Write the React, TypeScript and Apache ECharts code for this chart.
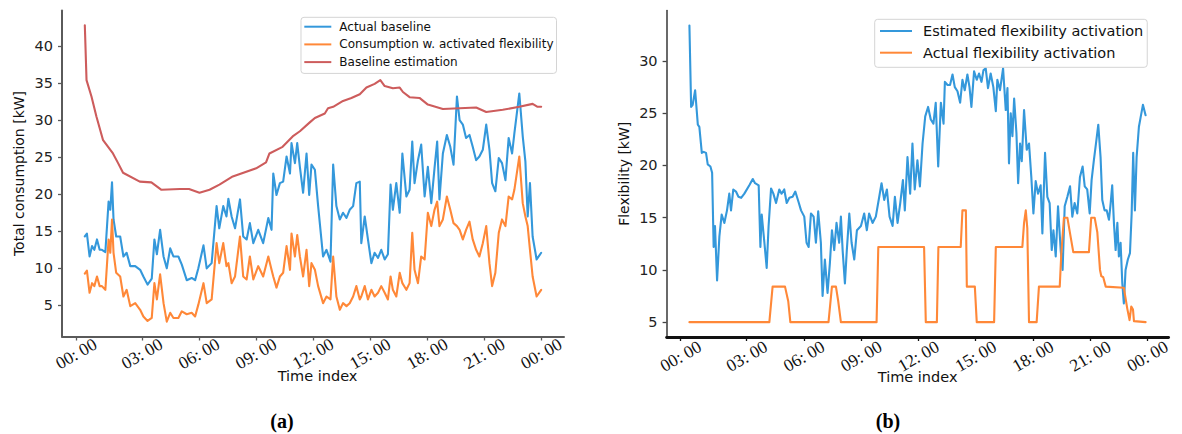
import React, { useEffect, useRef } from "react";
import * as echarts from "echarts";

// Tick positions (hours) and their labels on both time axes
const hourTicks = [-0.46, 3, 6, 9, 12, 15, 18, 21, 24];
const hourTickLabels = ["00: 00", "03: 00", "06: 00", "09: 00", "12: 00", "15: 00", "18: 00", "21: 00", "00: 00"];

const consumptionTicks = [5, 10, 15, 20, 25, 30, 35, 40];
const flexibilityTicks = [5, 10, 15, 20, 25, 30];

// (a) Total consumption [kW]
const consumptionTimes = [
  0, 0.11, 0.25, 0.38, 0.5, 0.64, 0.78, 0.9, 1.08, 1.25,
  1.34, 1.43, 1.51, 1.65, 1.86, 2.03, 2.2, 2.39, 2.65, 2.91,
  3.08, 3.3, 3.52, 3.66, 3.79, 3.96, 4.14, 4.31, 4.49, 4.66,
  4.92, 5.1, 5.36, 5.62, 5.8, 5.97, 6.24, 6.41, 6.67, 6.93,
  7.07, 7.28, 7.45, 7.55, 7.72, 7.9, 8.16, 8.33, 8.51, 8.68,
  8.86, 9.12, 9.38, 9.65, 9.82, 9.91, 10.08, 10.26, 10.43, 10.61,
  10.79, 10.87, 11.05, 11.17, 11.31, 11.48, 11.66, 11.8, 11.92, 12.1,
  12.27, 12.53, 12.71, 12.92, 13.06, 13.23, 13.41, 13.58, 13.76, 13.93,
  14.11, 14.28, 14.46, 14.54, 14.72, 14.89, 15.07, 15.24, 15.42, 15.59,
  15.77, 15.94, 16.08, 16.2, 16.38, 16.56, 16.7, 16.91, 17.08, 17.22,
  17.34, 17.52, 17.69, 17.87, 18.04, 18.22, 18.39, 18.53, 18.65, 18.83,
  19.04, 19.22, 19.39, 19.57, 19.71, 19.88, 20.05, 20.23, 20.4, 20.58,
  20.75, 20.93, 21.11, 21.28, 21.42, 21.59, 21.77, 21.94, 22.12, 22.29,
  22.47, 22.59, 22.85, 23.03, 23.17, 23.29, 23.41, 23.55, 23.76, 24.0,
];
const actualBaseline = [
  14.3, 14.7, 11.6, 13.0, 12.5, 13.9, 12.5, 12.5, 12.2, 19.0,
  17.9, 21.6, 16.6, 14.3, 14.3, 11.6, 12.1, 10.3, 10.3, 9.8,
  8.9, 7.8, 8.6, 13.9, 11.9, 15.2, 11.6, 10.0, 12.7, 11.6,
  11.6, 10.5, 8.4, 8.7, 8.4, 10.0, 13.1, 10.0, 10.7, 18.4,
  15.4, 18.4, 17.0, 19.4, 17.0, 15.4, 19.3, 14.3, 13.9, 16.1,
  13.4, 15.2, 13.4, 16.8, 15.2, 22.8, 19.9, 21.5, 21.7, 25.1,
  22.8, 26.9, 24.2, 26.9, 23.7, 20.2, 25.5, 19.9, 24.0, 23.3,
  18.4, 11.6, 12.5, 10.9, 24.0, 18.4, 16.6, 17.5, 16.8, 17.9,
  18.4, 21.5, 21.7, 13.4, 17.0, 13.9, 10.7, 12.1, 11.4, 12.5,
  11.2, 11.9, 21.3, 17.9, 21.5, 17.5, 25.5, 19.7, 20.6, 27.1,
  21.5, 24.6, 26.7, 19.7, 23.7, 18.8, 23.5, 27.1, 19.3, 25.5,
  28.0, 26.4, 24.0, 33.2, 30.0, 29.4, 27.6, 28.0, 26.4, 24.6,
  25.1, 26.0, 29.4, 26.0, 21.5, 20.4, 24.9, 24.2, 21.9, 27.6,
  25.5, 28.2, 33.6, 27.8, 24.4, 17.0, 21.5, 14.3, 11.2, 12.1,
];
const consumptionWithFlex = [
  9.3, 9.7, 6.7, 8.0, 7.6, 8.9, 7.6, 7.6, 7.1, 13.9,
  12.1, 16.6, 12.1, 9.4, 8.9, 6.2, 7.1, 4.9, 5.3, 4.4,
  3.5, 2.9, 3.3, 8.0, 5.8, 9.2, 5.3, 2.8, 4.0, 3.3,
  3.3, 4.2, 3.8, 4.0, 3.5, 5.1, 8.0, 5.3, 5.8, 13.4,
  10.7, 13.4, 10.3, 10.7, 8.0, 8.9, 14.3, 8.9, 8.5, 11.6,
  8.5, 10.3, 8.9, 11.6, 9.8, 8.9, 7.4, 8.9, 9.4, 13.0,
  9.8, 14.7, 11.6, 14.5, 11.6, 8.9, 12.5, 7.6, 10.7, 9.8,
  7.6, 5.3, 6.2, 5.8, 11.6, 6.2, 4.4, 5.3, 4.9, 5.3,
  6.2, 7.6, 5.8, 6.2, 7.6, 5.8, 7.1, 6.2, 6.7, 7.6,
  6.7, 5.8, 8.9, 7.1, 6.2, 9.4, 8.0, 7.1, 8.0, 14.8,
  9.8, 8.0, 11.6, 11.2, 17.5, 15.7, 17.9, 19.0, 15.7, 16.6,
  19.7, 17.9, 16.1, 15.7, 15.2, 13.9, 15.2, 16.3, 13.9, 12.5,
  11.6, 13.4, 15.7, 10.7, 7.6, 9.4, 14.8, 16.6, 15.7, 19.7,
  19.3, 20.6, 25.1, 18.8, 17.0, 15.7, 12.5, 8.9, 6.2, 7.1,
];
const estimationTimes = [
  0, 0.09, 0.35, 0.61, 0.96, 1.48, 1.75, 2.01, 2.89, 3.5,
  4.03, 5.0, 5.48, 6.03, 6.56, 7.08, 7.78, 9.01, 9.53, 9.71,
  10.4, 10.93, 11.31, 11.83, 12.1, 12.62, 12.79, 13.06, 13.58, 14.02,
  14.46, 14.81, 15.24, 15.54, 15.77, 16.2, 16.56, 16.73, 17.08, 17.6,
  18.04, 18.83, 19.71, 20.58, 21.11, 21.98, 22.85, 23.55, 23.81, 24.0,
];
const baselineEstimation = [
  42.8, 35.4, 33.2, 30.5, 27.3, 25.5, 24.2, 22.9, 21.7, 21.6,
  20.6, 20.7, 20.7, 20.2, 20.6, 21.3, 22.4, 23.5, 24.3, 25.5,
  26.4, 27.8, 28.5, 29.7, 30.3, 30.9, 31.6, 31.8, 32.6, 33.0,
  33.5, 34.4, 34.9, 35.4, 34.6, 34.3, 34.4, 33.8, 33.1, 33.0,
  32.1, 31.5, 31.6, 31.7, 31.1, 31.4, 31.8, 32.2, 31.8, 31.8,
];

// (b) Flexibility [kW]
const estimatedTimes = [
  0, 0.09, 0.17, 0.3, 0.44, 0.52, 0.65, 0.75, 0.87, 0.96,
  1.1, 1.19, 1.27, 1.34, 1.45, 1.57, 1.69, 1.83, 1.97, 2.09,
  2.18, 2.3, 2.44, 2.57, 2.71, 2.88, 3.14, 3.32, 3.44, 3.63,
  3.72, 3.79, 3.93, 4.05, 4.15, 4.28, 4.4, 4.54, 4.71, 4.83,
  4.97, 5.1, 5.24, 5.41, 5.55, 5.72, 5.85, 6.02, 6.14, 6.25,
  6.37, 6.51, 6.63, 6.75, 6.89, 6.98, 7.1, 7.24, 7.36, 7.47,
  7.59, 7.71, 7.85, 7.94, 8.03, 8.15, 8.25, 8.38, 8.5, 8.64,
  8.78, 8.99, 9.16, 9.3, 9.42, 9.6, 9.77, 9.95, 10.07, 10.21,
  10.35, 10.49, 10.65, 10.77, 10.91, 11.05, 11.19, 11.29, 11.43, 11.57,
  11.69, 11.81, 11.95, 12.08, 12.22, 12.36, 12.51, 12.65, 12.79, 12.91,
  13.04, 13.18, 13.32, 13.39, 13.53, 13.66, 13.79, 13.91, 14.05, 14.19,
  14.31, 14.43, 14.57, 14.68, 14.78, 14.92, 15.06, 15.18, 15.31, 15.41,
  15.53, 15.65, 15.79, 15.93, 16.06, 16.14, 16.28, 16.44, 16.58, 16.67,
  16.75, 16.84, 16.93, 17.02, 17.14, 17.23, 17.33, 17.42, 17.54, 17.68,
  17.8, 17.92, 18.03, 18.15, 18.27, 18.41, 18.5, 18.64, 18.76, 18.88,
  18.99, 19.08, 19.2, 19.32, 19.46, 19.56, 19.67, 19.81, 19.95, 20.07,
  20.19, 20.33, 20.47, 20.61, 20.72, 20.85, 20.98, 21.08, 21.2, 21.33,
  21.43, 21.55, 21.64, 21.76, 21.87, 21.99, 22.08, 22.16, 22.25, 22.34,
  22.43, 22.51, 22.6, 22.69, 22.77, 22.86, 22.98, 23.09, 23.18, 23.26,
  23.35, 23.44, 23.56, 23.64, 23.77, 23.91,
];
const estimatedActivation = [
  33.4, 25.6, 25.8, 27.2, 23.9, 23.7, 21.2, 21.3, 21.2, 20.1,
  19.9, 19.3, 12.2, 14.2, 9.0, 13.2, 15.3, 14.5, 15.7, 17.3,
  15.7, 17.7, 17.5, 17.0, 16.9, 17.3, 18.1, 18.7, 18.3, 18.1,
  12.2, 15.3, 12.6, 10.2, 14.2, 17.8, 17.3, 16.4, 17.7, 17.3,
  17.7, 16.4, 16.9, 17.0, 17.5, 16.5, 15.7, 15.1, 12.6, 12.2,
  15.4, 15.1, 12.6, 15.6, 12.6, 7.5, 11.0, 7.8, 10.6, 13.8,
  11.9, 14.5, 12.6, 15.1, 11.9, 8.7, 11.9, 15.4, 12.6, 11.0,
  13.8, 14.2, 15.4, 13.8, 15.4, 14.5, 15.1, 17.0, 18.3, 16.7,
  17.7, 15.1, 14.2, 17.0, 14.5, 16.4, 18.6, 15.7, 20.8, 17.3,
  22.1, 17.7, 20.5, 18.0, 22.1, 24.7, 25.6, 24.4, 24.0, 26.0,
  19.9, 26.0, 24.0, 28.0, 27.7, 27.7, 28.7, 27.5, 27.1, 26.0,
  28.2, 27.2, 28.7, 27.5, 25.6, 29.0, 28.2, 28.8, 28.0, 29.1,
  29.3, 27.4, 28.8, 27.5, 25.2, 28.2, 27.2, 29.3, 25.3, 27.4,
  20.2, 25.0, 22.8, 26.4, 23.1, 18.3, 22.1, 20.4, 25.3, 21.5,
  22.1, 18.9, 15.4, 18.5, 17.3, 18.1, 13.5, 21.2, 17.0, 16.4,
  11.9, 13.8, 11.3, 16.1, 11.9, 10.0, 16.1, 17.0, 18.0, 15.1,
  16.4, 15.4, 18.9, 19.9, 18.0, 17.7, 15.4, 18.6, 20.5, 22.4,
  23.9, 20.8, 16.7, 15.7, 15.7, 14.8, 16.4, 18.1, 14.5, 11.9,
  14.5, 11.3, 12.6, 8.7, 6.8, 10.0, 11.0, 11.6, 15.4, 21.2,
  15.7, 20.8, 23.7, 24.5, 25.8, 24.8,
];
const actualTimes = [
  0, 4.19, 4.36, 5.01, 5.18, 5.29, 7.29, 7.47, 7.68, 7.8,
  7.94, 9.81, 9.9, 12.3, 12.39, 12.97, 13.05, 14.22, 14.31, 14.49,
  14.54, 14.96, 15.06, 15.97, 16.06, 17.45, 17.54, 17.63, 17.71, 17.8,
  18.2, 18.32, 19.41, 19.49, 19.63, 19.81, 19.95, 20.12, 20.94, 21.06,
  21.24, 21.38, 21.52, 21.59, 21.69, 21.82, 22.77, 22.95, 23.07, 23.16,
  23.25, 23.3, 23.91,
];
const actualActivation = [
  5.0, 5.0, 8.4, 8.4, 7.0, 5.0, 5.0, 8.4, 8.4, 7.0,
  5.0, 5.0, 12.2, 12.2, 5.0, 5.0, 12.2, 12.2, 15.7, 15.7,
  8.4, 8.4, 5.0, 5.0, 12.2, 12.2, 14.5, 15.7, 14.0, 5.0,
  5.0, 8.4, 8.4, 11.5, 15.0, 15.0, 13.5, 11.7, 11.7, 15.0,
  15.0, 13.6, 10.0, 9.4, 9.3, 8.4, 8.3, 6.3, 5.2, 6.5,
  6.2, 5.1, 5.0,
];

const BLUE = "#3498db";
const ORANGE = "#ff8838";
const RED = "#cd5c5c";
const SANS = "DejaVu Sans";
const SERIF = "Liberation Serif";

const pairs = (t: number[], v: number[]) => t.map((x, i) => [x, v[i]]);

const hourLabel = (v: number) => {
  const i = hourTicks.findIndex((t) => Math.abs(t - v) < 1e-6);
  return i >= 0 ? hourTickLabels[i] : "";
};

const timeAxis = (
  gridIndex: number,
  min: number,
  max: number,
  color: string,
  width: number,
  margin: number,
  nameGap: number,
  nameShift: number
) => ({
  type: "value",
  gridIndex,
  min,
  max,
  name: "Time index",
  nameLocation: "middle",
  nameGap,
  nameMoveOverlap: false,
  nameTextStyle: { fontFamily: SANS, fontSize: 14.5, color: "#111", padding: [0, 0, 0, nameShift] },
  axisLine: { show: true, onZero: false, lineStyle: { color, width } },
  axisTick: { show: true, customValues: hourTicks, length: 4, lineStyle: { color, width: 1.3 } },
  axisLabel: {
    show: true,
    customValues: hourTicks,
    rotate: 30,
    align: "center",
    verticalAlign: "middle",
    margin,
    formatter: hourLabel,
    fontFamily: SERIF,
    fontSize: 17.5,
    color: "#111",
  },
  splitLine: { show: false },
});

const valueAxis = (gridIndex: number, min: number, max: number, ticks: number[], name: string, color: string, width: number) => ({
  type: "value",
  gridIndex,
  min,
  max,
  name,
  nameLocation: "middle",
  nameGap: 36,
  nameMoveOverlap: false,
  nameTextStyle: { fontFamily: SANS, fontSize: 14, color: "#111" },
  axisLine: { show: true, onZero: false, lineStyle: { color, width } },
  axisTick: { show: true, customValues: ticks, length: 4, lineStyle: { color, width: 1.3 } },
  axisLabel: {
    show: true,
    customValues: ticks,
    margin: 9,
    fontFamily: SANS,
    fontSize: 14.5,
    color: "#222",
  },
  splitLine: { show: false },
});

const lineSeries = (name: string, data: number[][], color: string, axisIndex: number) => ({
  name,
  type: "line",
  xAxisIndex: axisIndex,
  yAxisIndex: axisIndex,
  data,
  symbol: "none",
  showSymbol: false,
  color,
  lineStyle: { color, width: 2.1, cap: "round", join: "round" },
  emphasis: { disabled: true },
});

const legendBox = {
  orient: "vertical",
  icon: "rect",
  selectedMode: false,
  backgroundColor: "rgba(255,255,255,0.8)",
  borderColor: "#d4d4d4",
  borderWidth: 1,
  borderRadius: 3,
};

export default function App() {
  const ref = useRef<HTMLDivElement>(null);

  useEffect(() => {
    if (!ref.current) return;
    const chart = echarts.init(ref.current, null, { renderer: "svg" });
    chart.setOption({
      animation: false,
      backgroundColor: "#ffffff",
      grid: [
        { left: 62, top: 10.5, width: 502, height: 326, outerBoundsMode: "none", containLabel: false },
        { left: 666.6, top: 10.6, width: 502, height: 326.4, outerBoundsMode: "none", containLabel: false },
      ],
      xAxis: [
        timeAxis(0, -1.2, 25.2, "#5a5a5a", 2, 17, 32, 9),
        timeAxis(1, -1.196, 25.116, "#111111", 2.8, 19, 32, 0),
      ],
      yAxis: [
        valueAxis(0, 0.8, 44.8, consumptionTicks, "Total consumption [kW]", "#5a5a5a", 2),
        valueAxis(1, 3.58, 34.82, flexibilityTicks, "Flexibility [kW]", "#444444", 1.6),
      ],
      legend: [
        {
          ...legendBox,
          data: ["Actual baseline", "Consumption w. activated flexibility", "Baseline estimation"],
          left: 301,
          top: 17.3,
          itemWidth: 27,
          itemHeight: 2,
          itemGap: 3.7,
          padding: [2.4, 3, 4.3, 3.3],
          textStyle: { fontFamily: SANS, fontSize: 12, color: "#111", lineHeight: 14, padding: [0, 0, 0, 3] },
        },
        {
          ...legendBox,
          data: ["Estimated flexibility activation", "Actual flexibility activation"],
          left: 874.7,
          top: 19.3,
          itemWidth: 32,
          itemHeight: 2,
          itemGap: 4.7,
          padding: [3.2, 4, 6.1, 5.3],
          textStyle: { fontFamily: SANS, fontSize: 14.5, color: "#111", lineHeight: 17, padding: [0, 0, 0, 6] },
        },
      ],
      series: [
        lineSeries("Actual baseline", pairs(consumptionTimes, actualBaseline), BLUE, 0),
        lineSeries("Consumption w. activated flexibility", pairs(consumptionTimes, consumptionWithFlex), ORANGE, 0),
        lineSeries("Baseline estimation", pairs(estimationTimes, baselineEstimation), RED, 0),
        lineSeries("Estimated flexibility activation", pairs(estimatedTimes, estimatedActivation), BLUE, 1),
        lineSeries("Actual flexibility activation", pairs(actualTimes, actualActivation), ORANGE, 1),
      ],
      graphic: [
        {
          type: "text",
          x: 282,
          y: 421,
          style: { text: "(a)", fontFamily: SERIF, fontWeight: "bold", fontSize: 20, fill: "#000", align: "center", verticalAlign: "middle" },
        },
        {
          type: "text",
          x: 888,
          y: 421,
          style: { text: "(b)", fontFamily: SERIF, fontWeight: "bold", fontSize: 20, fill: "#000", align: "center", verticalAlign: "middle" },
        },
      ],
    });
    return () => chart.dispose();
  }, []);

  return (
    <div
      ref={ref}
      style={{ position: "fixed", left: 0, top: 0, width: 1182, height: 434, background: "#ffffff" }}
    />
  );
}
